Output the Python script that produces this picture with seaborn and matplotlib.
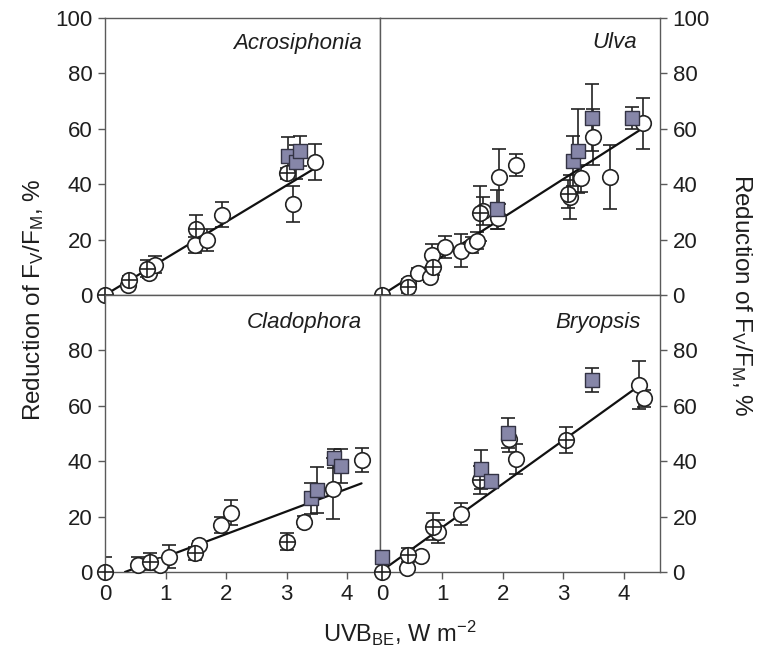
import matplotlib
matplotlib.use("Agg")
import matplotlib.pyplot as plt
import seaborn as sns
import pandas as pd

# ---------------- data ----------------
species = ["Acrosiphonia", "Ulva", "Cladophora", "Bryopsis"]

acro_open_x = [0.38, 0.72, 0.82, 1.49, 1.68, 1.93, 3.11, 3.47]
acro_open_y = [3.5, 8.0, 11.0, 18.0, 20.0, 29.0, 33.0, 48.0]
acro_open_e = [1.5, 2.0, 3.0, 3.0, 4.0, 4.5, 6.5, 6.5]
acro_cross_x = [0.0, 0.40, 0.70, 1.51, 3.00]
acro_cross_y = [0.0, 5.5, 9.5, 24.0, 44.0]
acro_cross_e = [0.0, 1.5, 3.0, 5.0, 2.0]
acro_sq_x = [3.03, 3.16, 3.23]
acro_sq_y = [50.0, 48.0, 52.0]
acro_sq_e = [7.0, 6.0, 5.5]
acro_fit_x = [0.0, 3.45]
acro_fit_y = [0.0, 45.5]

ulva_open_x = [0.43, 0.60, 0.79, 0.83, 1.04, 1.31, 1.49, 1.57, 1.67, 1.92, 1.93, 2.21,
               3.11, 3.30, 3.49, 3.77, 4.32]
ulva_open_y = [4.4, 7.8, 6.6, 14.4, 17.4, 16.0, 18.0, 19.6, 30.4, 27.7, 42.7, 46.9,
               35.3, 42.1, 57.1, 42.7, 62.0]
ulva_open_e = [1.5, 2.0, 2.0, 4.0, 4.0, 6.0, 3.0, 3.0, 5.0, 4.0, 10.0, 4.0,
               8.0, 5.0, 10.0, 11.5, 9.2]
ulva_cross_x = [0.0, 0.43, 0.85, 1.62, 3.07]
ulva_cross_y = [0.0, 2.8, 10.2, 29.5, 36.5]
ulva_cross_e = [0.0, 2.0, 3.0, 10.0, 5.0]
ulva_sq_x = [1.90, 3.16, 3.25, 3.47, 4.13]
ulva_sq_y = [31.0, 48.5, 52.0, 64.0, 64.0]
ulva_sq_e = [7.0, 9.0, 15.0, 12.0, 4.0]
ulva_fit_x = [0.0, 4.30]
ulva_fit_y = [0.0, 60.0]

clad_open_x = [0.55, 0.91, 1.05, 1.55, 1.92, 2.09, 3.29, 3.76, 4.24]
clad_open_y = [2.5, 2.5, 5.5, 9.7, 17.0, 21.4, 18.2, 30.0, 40.4]
clad_open_e = [3.0, 1.5, 4.2, 1.5, 3.0, 4.6, 2.0, 11.0, 4.4]
clad_cross_x = [0.0, 0.74, 1.49, 3.00]
clad_cross_y = [0.0, 3.7, 6.7, 10.9]
clad_cross_e = [5.5, 3.0, 2.5, 3.0]
clad_sq_x = [3.41, 3.51, 3.79, 3.90]
clad_sq_y = [26.6, 29.6, 41.0, 38.3]
clad_sq_e = [5.5, 8.4, 3.5, 6.0]
clad_fit_x = [0.33, 4.24]
clad_fit_y = [0.0, 32.0]

bryo_open_x = [0.42, 0.64, 0.93, 1.31, 2.10, 2.21, 4.25, 4.34]
bryo_open_y = [1.6, 5.9, 14.6, 20.9, 47.9, 40.8, 67.5, 62.7]
bryo_open_e = [1.0, 1.5, 4.0, 4.0, 4.5, 5.3, 8.7, 3.0]
bryo_cross_x = [0.0, 0.43, 0.85, 1.62, 3.05]
bryo_cross_y = [0.0, 6.1, 16.4, 33.2, 47.7]
bryo_cross_e = [0.0, 2.4, 5.0, 5.0, 4.8]
bryo_sq_x = [0.0, 1.64, 1.81, 2.09, 3.48]
bryo_sq_y = [5.5, 37.1, 32.8, 50.1, 69.3]
bryo_sq_e = [1.0, 7.0, 2.0, 5.4, 4.2]
bryo_fit_x = [0.0, 4.24]
bryo_fit_y = [0.5, 67.0]

x_ticks = [0, 1, 2, 3, 4]
y_ticks_top = [0, 20, 40, 60, 80, 100]
y_ticks_bottom = [0, 20, 40, 60, 80]

panels = {
    "Acrosiphonia": (acro_open_x, acro_open_y, acro_open_e, acro_cross_x, acro_cross_y, acro_cross_e,
                     acro_sq_x, acro_sq_y, acro_sq_e, acro_fit_x, acro_fit_y),
    "Ulva": (ulva_open_x, ulva_open_y, ulva_open_e, ulva_cross_x, ulva_cross_y, ulva_cross_e,
             ulva_sq_x, ulva_sq_y, ulva_sq_e, ulva_fit_x, ulva_fit_y),
    "Cladophora": (clad_open_x, clad_open_y, clad_open_e, clad_cross_x, clad_cross_y, clad_cross_e,
                   clad_sq_x, clad_sq_y, clad_sq_e, clad_fit_x, clad_fit_y),
    "Bryopsis": (bryo_open_x, bryo_open_y, bryo_open_e, bryo_cross_x, bryo_cross_y, bryo_cross_e,
                 bryo_sq_x, bryo_sq_y, bryo_sq_e, bryo_fit_x, bryo_fit_y),
}

# ---------------- style ----------------
sns.set_theme(style="ticks")
plt.rcParams["font.family"] = ["Liberation Sans", "DejaVu Sans"]
plt.rcParams["mathtext.fontset"] = "custom"
plt.rcParams["mathtext.rm"] = "Liberation Sans"
plt.rcParams["mathtext.it"] = "Liberation Sans:italic"
plt.rcParams["mathtext.default"] = "regular"

SPINE = "#5a5a5a"
TXT = "#1e1e1e"
SQ = "#8686a8"

fig = plt.figure(figsize=(7.6, 6.63), dpi=100)
W, H = 760.0, 663.0

def frac_rect(x0, y0, x1, y1):
    return [x0 / W, 1 - y1 / H, (x1 - x0) / W, (y1 - y0) / H]

rects = {
    "Acrosiphonia": frac_rect(105, 18, 380, 295),
    "Ulva": frac_rect(380, 18, 660, 295),
    "Cladophora": frac_rect(105, 295, 380, 572),
    "Bryopsis": frac_rect(380, 295, 660, 572),
}
xlims = {
    "Acrosiphonia": (0.0, 4.545),
    "Ulva": (-0.033, 4.6),
    "Cladophora": (0.0, 4.545),
    "Bryopsis": (-0.033, 4.6),
}
title_pos = {
    "Acrosiphonia": 362, "Ulva": 637, "Cladophora": 362, "Bryopsis": 641,
}

for i, name in enumerate(species):
    ox, oy, oe, cx, cy, ce, sx, sy, se, fx, fy = panels[name]
    ax = fig.add_axes(rects[name])
    ax.set_facecolor("white")
    top = i < 2
    right = i % 2 == 1

    # error bars
    for xs, ys, es in ((ox, oy, oe), (cx, cy, ce), (sx, sy, se)):
        ax.errorbar(xs, ys, yerr=es, fmt="none", ecolor="#222222", elinewidth=1.2,
                    capsize=5, capthick=1.2, zorder=2)
    # fitted line
    sns.lineplot(x=fx, y=fy, ax=ax, color="#111111", lw=1.6, zorder=3)
    # open circles
    sns.scatterplot(x=ox, y=oy, ax=ax, marker="o", s=125, facecolor="white",
                    edgecolor="#222222", linewidth=1.2, zorder=4, clip_on=False)
    # crosshair circles
    sns.scatterplot(x=cx, y=cy, ax=ax, marker="o", s=125, facecolor="white",
                    edgecolor="#222222", linewidth=1.2, zorder=5, clip_on=False)
    sns.scatterplot(x=cx, y=cy, ax=ax, marker="+", s=125, color="#222222",
                    linewidth=1.2, zorder=5.5, clip_on=False)
    # squares
    sns.scatterplot(x=sx, y=sy, ax=ax, marker="s", s=95, facecolor=SQ,
                    edgecolor="#333344", linewidth=1.0, zorder=6, clip_on=False)

    ax.set_xlim(*xlims[name])
    ax.set_ylim(0, 100)
    ax.set_xticks(x_ticks)
    ax.set_yticks(y_ticks_top if top else y_ticks_bottom)
    ax.tick_params(axis="both", direction="out", length=5, width=1, color=SPINE,
                   labelsize=16, labelcolor=TXT, pad=4)
    if top:
        ax.tick_params(axis="x", labelbottom=False)
    if right:
        ax.yaxis.tick_right()
        ax.tick_params(axis="y", left=False, right=True, labelleft=False, labelright=True)
    for sp in ax.spines.values():
        sp.set_visible(True)
        sp.set_color(SPINE)
        sp.set_linewidth(1.0)
    ax.set_xlabel("")
    ax.set_ylabel("")

    ty = 43 if top else 322
    fig.text(title_pos[name] / W, 1 - ty / H, name, style="italic", fontsize=16,
             ha="right", va="center", color=TXT)

ylab = "Reduction of F$_{V}$/F$_{M}$, %"
fig.text(34 / W, 1 - 300 / H, ylab, rotation=90, fontsize=17.5, ha="center",
         va="center", color=TXT)
fig.text(741 / W, 1 - 295 / H, ylab, rotation=270, fontsize=17.5, ha="center",
         va="center", color=TXT)
fig.text(400 / W, 1 - 633 / H, "UVB$_{BE}$, W m$^{-2}$", fontsize=17, ha="center",
         va="center", color=TXT)

fig.savefig("out.png", dpi=100, facecolor="white")
